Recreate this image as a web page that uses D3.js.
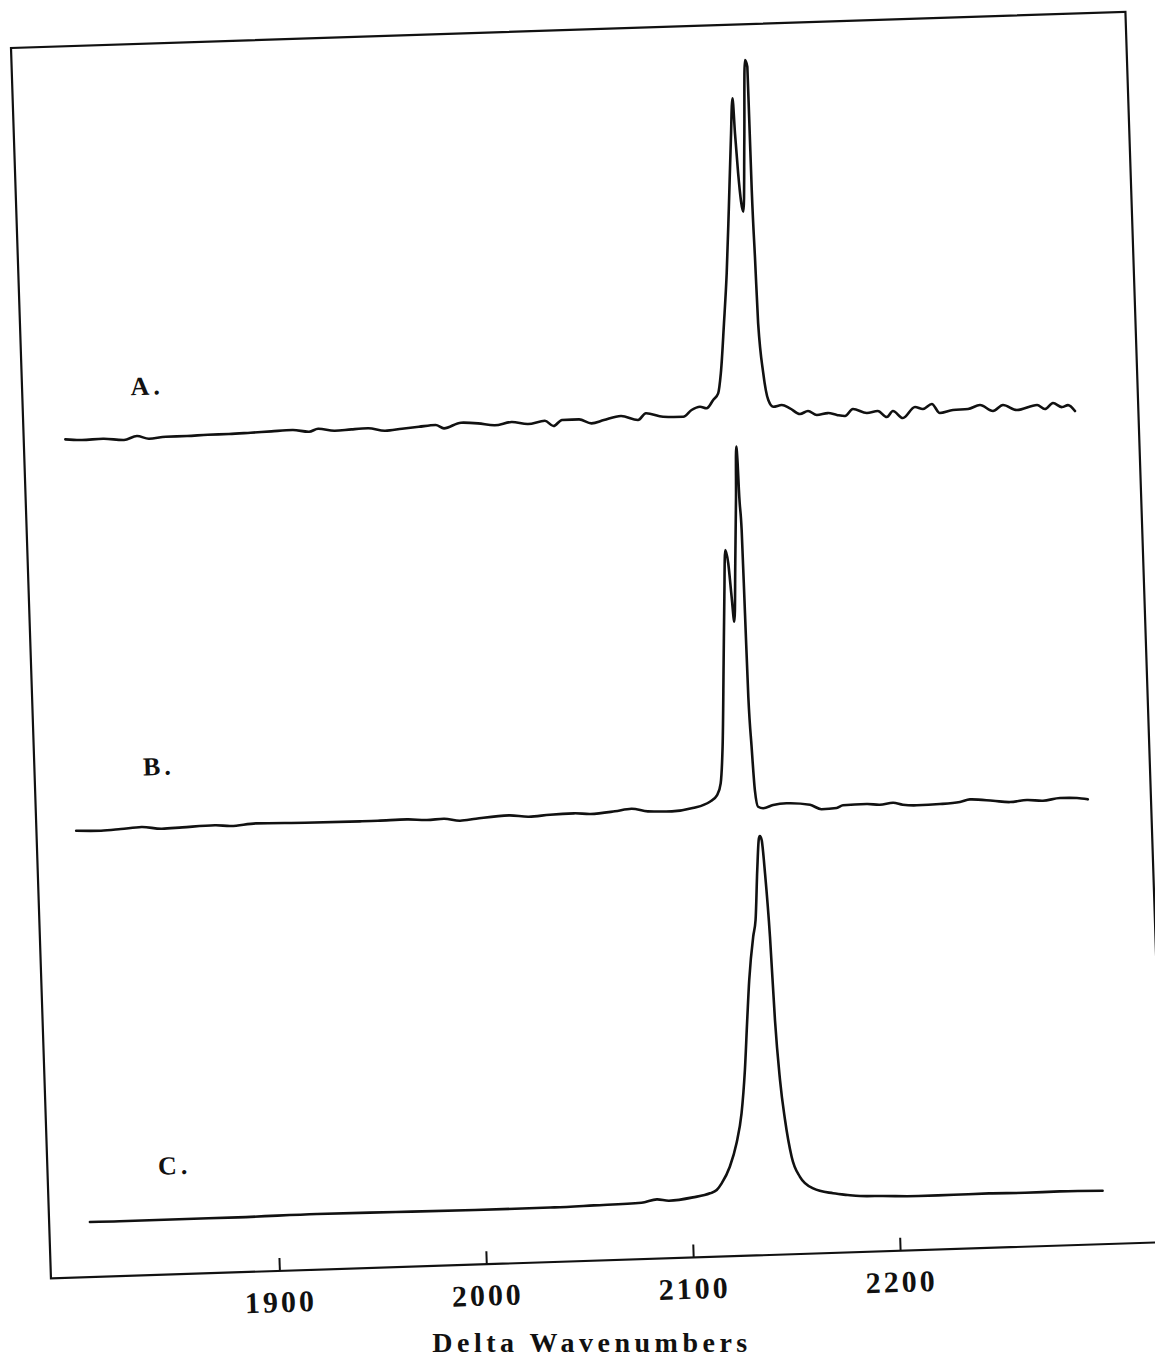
<!DOCTYPE html>
<html>
<head>
<meta charset="utf-8">
<script src="https://cdn.jsdelivr.net/npm/d3@7"></script>
<style>
  body { margin: 0; background: #fff; }
  text { font-family: "Liberation Serif", "Times New Roman", serif; font-weight: bold; fill: #111; }
</style>
</head>
<body>
<div id="chart"></div>
<script>
// tick labels on the wavenumber axis
var tickValues = [1900, 2000, 2100, 2200];

// trace names and their vertical offsets (intensity units)
var traceLabels = ["A.", "B.", "C."];
var traceOffsets = [83.8, 44.66, 5.5];
var labelWave = [1842, 1842, 1843];
var labelRise = [4.2, 5.3, 4.5];

// spectrum A
var waveA = [1809.7, 1817.7, 1827.9, 1838.0, 1844.3, 1850.1, 1858.3, 1868.5, 1878.6, 1888.8,
  1899.2, 1909.3, 1919.5, 1927.5, 1931.9, 1939.9, 1948.0, 1956.0, 1964.2, 1972.4,
  1980.6, 1988.7, 1992.7, 2001.0, 2009.2, 2017.3, 2025.4, 2033.3, 2041.5, 2045.6,
  2049.8, 2058.0, 2064.0, 2070.0, 2078.3, 2086.5, 2090.4, 2098.6, 2108.4, 2112.5,
  2116.6, 2119.8, 2123.1, 2125.6, 2127.2, 2129.5, 2131.6, 2133.7, 2135.7, 2137.2,
  2137.8, 2138.7, 2140.6, 2142.2, 2143.8, 2144.8, 2144.9, 2145.0, 2145.5, 2146.0,
  2147.7, 2149.7, 2152.0, 2156.1, 2160.0, 2164.8, 2168.7, 2172.9, 2178.3, 2182.6,
  2186.5, 2190.4, 2197.1, 2202.4, 2206.7, 2209.7, 2214.4, 2220.4, 2224.2, 2228.6,
  2232.3, 2238.7, 2246.0, 2251.8, 2258.0, 2262.9, 2269.6, 2279.4, 2283.1, 2287.1,
  2291.4, 2294.3, 2297.6];
var intA = [0.01, -0.11, -0.05, -0.25, 0.11, -0.20, -0.05, -0.05, 0.01, 0.01,
  0.07, 0.14, 0.20, -0.02, 0.25, 0.00, 0.08, 0.13, -0.17, -0.02,
  0.12, 0.24, -0.12, 0.39, 0.27, 0.02, 0.29, 0.04, 0.31, -0.24,
  0.33, 0.34, -0.10, 0.19, 0.54, 0.08, 0.73, 0.33, 0.26, 0.91,
  1.21, 1.03, 1.84, 2.49, 4.48, 9.46, 14.46, 21.11, 27.76, 31.93,
  28.42, 24.41, 20.56, 27.72, 35.71, 35.04, 29.37, 22.70, 16.02, 9.35,
  4.34, 1.66, 0.97, 1.11, 0.76, 0.16, 0.43, 0.00, 0.16, -0.06,
  -0.19, 0.48, 0.04, 0.20, -0.43, 0.15, -0.58, 0.48, 0.26, 0.73,
  -0.20, 0.06, 0.11, 0.47, -0.17, 0.40, -0.15, 0.29, -0.14, 0.43,
  0.00, 0.18, -0.44];

// spectrum B
var waveB = [1808.8, 1820.8, 1830.4, 1840.4, 1850.2, 1860.1, 1875.9, 1883.6, 1895.7, 1919.4,
  1946.9, 1954.6, 1968.7, 1978.3, 1986.5, 1994.3, 2002.0, 2018.0, 2027.6, 2037.8,
  2049.4, 2057.4, 2069.2, 2077.2, 2085.1, 2096.7, 2106.8, 2115.2, 2118.8, 2120.7,
  2122.2, 2124.0, 2125.4, 2126.6, 2127.8, 2128.9, 2129.8, 2131.2, 2132.6, 2133.5,
  2133.9, 2134.1, 2134.8, 2135.1, 2135.4, 2136.2, 2137.1, 2138.4, 2140.9, 2145.7,
  2152.2, 2163.5, 2169.0, 2176.3, 2179.4, 2190.9, 2197.2, 2203.6, 2208.3, 2215.1,
  2226.2, 2235.9, 2240.8, 2251.9, 2260.1, 2268.3, 2276.0, 2284.3, 2292.5, 2297.7];
var intB = [0.00, -0.08, 0.02, 0.16, -0.08, -0.01, 0.09, -0.03, 0.15, 0.05,
  0.01, 0.02, 0.06, -0.07, 0.00, -0.25, -0.10, 0.13, -0.07, 0.06,
  0.12, 0.00, 0.19, 0.39, 0.08, 0.00, 0.26, 0.84, 1.48, 2.64,
  6.30, 14.63, 21.28, 25.95, 24.61, 21.26, 18.75, 24.59, 31.24, 36.24,
  34.57, 31.90, 27.89, 19.55, 11.20, 6.20, 1.86, 0.18, 0.01, 0.30,
  0.43, 0.21, -0.28, -0.20, 0.05, 0.10, -0.01, 0.14, -0.09, -0.19,
  -0.14, 0.00, 0.23, 0.02, -0.17, -0.02, -0.14, 0.07, 0.02, -0.15];

// spectrum C
var waveC = [1809.3, 1823.6, 1852.3, 1880.8, 1919.0, 1957.2, 1995.4, 2033.8, 2052.9, 2075.9,
  2083.4, 2089.2, 2100.8, 2109.1, 2112.4, 2114.9, 2119.1, 2122.7, 2125.6, 2127.9,
  2129.8, 2131.4, 2134.0, 2135.4, 2137.0, 2138.3, 2138.8, 2139.6, 2140.7, 2142.1,
  2143.2, 2144.7, 2146.5, 2149.1, 2152.8, 2159.0, 2168.6, 2175.6, 2181.5, 2192.5,
  2209.7, 2226.8, 2243.8, 2261.1, 2278.1, 2298.7];
var intC = [0.01, -0.02, -0.01, -0.01, 0.07, 0.01, -0.05, -0.04, 0.03, 0.14,
  0.43, 0.25, 0.51, 0.86, 1.17, 1.82, 3.45, 5.77, 8.75, 13.07,
  18.06, 22.05, 26.37, 28.03, 33.02, 36.18, 36.41, 36.00, 32.66, 26.31,
  17.97, 11.95, 7.94, 4.25, 2.22, 1.02, 0.46, 0.24, 0.10, 0.03,
  -0.09, -0.08, -0.05, -0.11, -0.08, -0.16];

function drawSpectra() {
  // frame size, and the small tilt of the scanned page
  var margin = { top: 48, left: 11 },
    width = 1115,
    height = 1231,
    tilt = -1.86;

  var root = d3.select("#chart")
    .append("svg")
    .attr("width", 1155)
    .attr("height", 1361);

  var svg = root.append("g")
    .attr("transform", "translate(" + margin.left + "," + margin.top + ") rotate(" + tilt + ")");

  var x = d3.scaleLinear()
    .domain([1789.6, 2328.2])
    .range([0, width]);

  var y = d3.scaleLinear()
    .domain([0, 123.1])
    .range([height, 0]);

  // box round the plot
  svg.append("rect")
    .attr("x", 0)
    .attr("y", 0)
    .attr("width", width)
    .attr("height", height)
    .attr("fill", "none")
    .attr("stroke", "#111")
    .attr("stroke-width", 2.2);

  // x axis, ticks pointing inward
  var xAxis = svg.append("g")
    .attr("transform", "translate(0," + height + ")")
    .call(d3.axisBottom(x).tickValues(tickValues).tickSize(-13).tickPadding(20).tickFormat(d3.format("d")));
  xAxis.select(".domain").remove();
  xAxis.selectAll(".tick line").attr("stroke", "#111").attr("stroke-width", 2);
  xAxis.selectAll(".tick text")
    .attr("fill", "#111")
    .style("font-family", "'Liberation Serif', serif")
    .style("font-weight", "bold")
    .style("font-size", "30px")
    .style("letter-spacing", "3px");

  // axis title, printed level on the page
  root.append("text")
    .attr("x", 592)
    .attr("y", 1352)
    .attr("text-anchor", "middle")
    .style("font-size", "28px")
    .style("letter-spacing", "4.5px")
    .text("Delta Wavenumbers");

  var traces = [
    { wave: waveA, inten: intA },
    { wave: waveB, inten: intB },
    { wave: waveC, inten: intC }
  ];

  var line = d3.line()
    .curve(d3.curveMonotoneX)
    .x(function (d) { return x(d[0]); })
    .y(function (d) { return y(d[1]); });

  traces.forEach(function (t, i) {
    var pts = t.wave.map(function (w, j) { return [w, t.inten[j] + traceOffsets[i]]; });
    svg.append("path")
      .datum(pts)
      .attr("d", line)
      .attr("fill", "none")
      .attr("stroke", "#111")
      .attr("stroke-width", 2.6)
      .attr("stroke-linejoin", "round")
      .attr("stroke-linecap", "round");

    svg.append("text")
      .attr("x", x(labelWave[i]))
      .attr("y", y(traceOffsets[i] + labelRise[i]))
      .style("font-size", "26px")
      .style("letter-spacing", "4px")
      .text(traceLabels[i]);
  });
}

drawSpectra();
</script>
</body>
</html>
